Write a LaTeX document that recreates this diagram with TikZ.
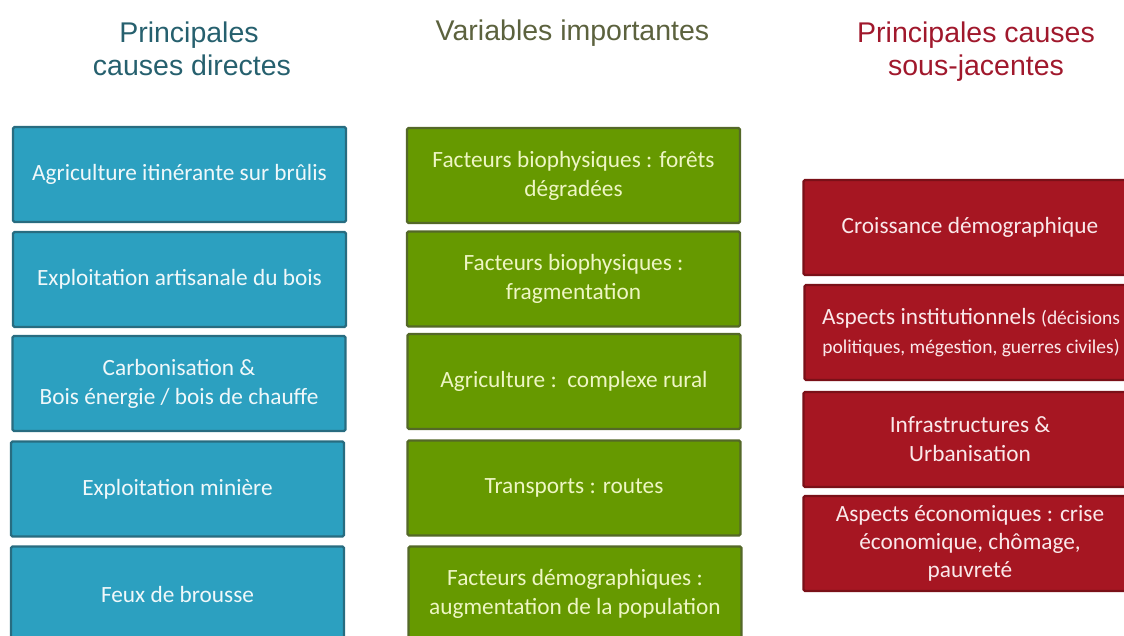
\documentclass[tikz,border=0pt]{standalone}
\usepackage{fontspec}
\setmainfont{Carlito}
\newfontfamily\headfont{Liberation Sans}
\definecolor{bfill}{RGB}{44,160,192}
\definecolor{bline}{RGB}{40,108,128}
\definecolor{gfill}{RGB}{102,153,0}
\definecolor{gline}{RGB}{84,104,40}
\definecolor{rfill}{RGB}{166,22,34}
\definecolor{rline}{RGB}{122,16,24}
\definecolor{btext}{RGB}{240,248,250}
\definecolor{gtext}{RGB}{238,246,196}
\definecolor{rtext}{RGB}{250,232,234}
\definecolor{thead}{RGB}{38,96,110}
\definecolor{ghead}{RGB}{92,98,62}
\definecolor{rhead}{RGB}{160,24,44}
\begin{document}
\begin{tikzpicture}[x=1pt,y=-1pt,
  boxbase/.style={draw, line width=2.2pt, rounded corners=1.5pt, minimum width=333pt, minimum height=95pt, inner sep=0pt, align=center, font=\fontsize{23.3}{29}\selectfont},
  bluebox/.style={boxbase, fill=bfill, draw=bline, text=btext},
  greenbox/.style={boxbase, fill=gfill, draw=gline, text=gtext},
  redbox/.style={boxbase, fill=rfill, draw=rline, text=rtext},
  headtext/.style={font=\headfont\fontsize{28.5}{33}\selectfont, inner sep=0pt, anchor=base}]
\useasboundingbox (0,0) rectangle (1124,635);
\begin{scope}
\clip (0,0) rectangle (1124,635);
% headings
\node[headtext, text=thead] (h1a) at (189,42) {Principales};
\node[headtext, text=thead] (h1b) at (192,75) {causes directes};
\node[headtext, text=ghead] (h2) at (572.5,40) {Variables importantes};
\node[headtext, text=rhead] (h3a) at (976,42) {Principales causes};
\node[headtext, text=rhead] (h3b) at (976,75) {sous-jacentes};
% blue column
\node[bluebox] (b1) at (179.5,174.5) {Agriculture itinérante sur brûlis};
\node[bluebox] (b2) at (179.5,279.5) {Exploitation artisanale du bois};
\node[bluebox] (b3) at (179,383.5) {Carbonisation \&\\Bois énergie / bois de chauffe};
\node[bluebox] (b4) at (177.5,489) {Exploitation minière};
\node[bluebox] (b5) at (177.5,594) {Feux de brousse};
% green column
\node[greenbox] (g1) at (573.5,175.5) {Facteurs biophysiques : forêts\\dégradées};
\node[greenbox] (g2) at (573.5,279) {Facteurs biophysiques :\\fragmentation};
\node[greenbox] (g3) at (574,381.5) {Agriculture :~~complexe rural};
\node[greenbox] (g4) at (574,488) {Transports : routes};
\node[greenbox] (g5) at (575,594) {Facteurs démographiques :\\augmentation de la population};
% red column
\node[redbox] (r1) at (970,227.5) {Croissance démographique};
\node[redbox] (r2) at (971,332.5) {Aspects institutionnels {\fontsize{19.5}{27}\selectfont(décisions}\\{\fontsize{19.5}{27}\selectfont politiques, mégestion, guerres civiles)}};
\node[redbox] (r3) at (970,439.5) {Infrastructures \&\\Urbanisation};
\node[redbox, font=\fontsize{23.3}{28}\selectfont] (r4) at (970,543.5) {Aspects économiques : crise\\économique, chômage,\\pauvreté};
\end{scope}
\end{tikzpicture}
\end{document}
